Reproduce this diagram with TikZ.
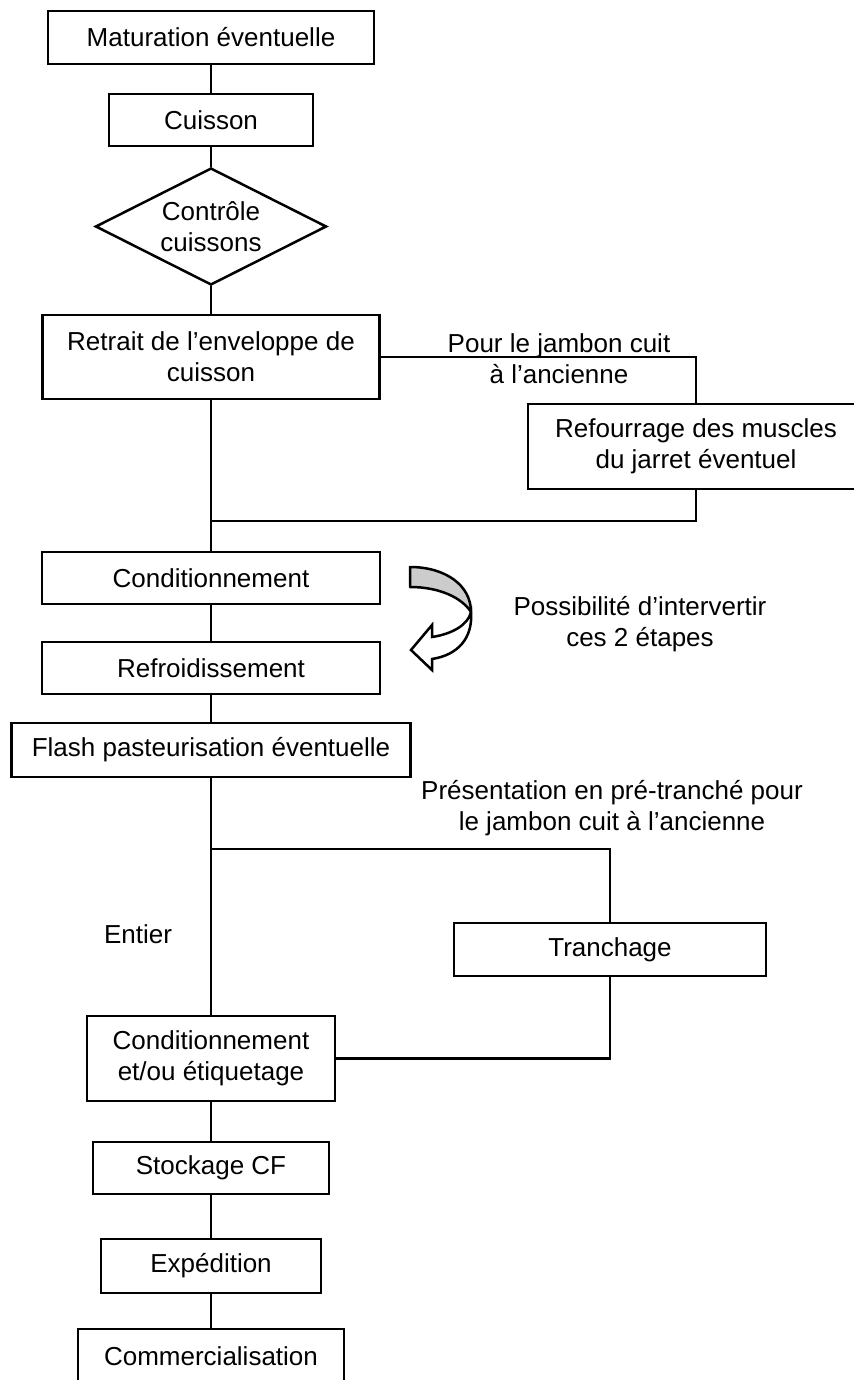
\documentclass[tikz,border=0pt]{standalone}
\usepackage{fontspec}
\setmainfont{Liberation Sans}
\usetikzlibrary{shapes.geometric}
\definecolor{arrowgray}{RGB}{204,204,204}
\tikzset{
  every node/.style={font=\fontsize{13}{15.5}\selectfont},
  stepbox/.style={draw, line width=1.25pt, rectangle, inner sep=0pt, align=center},
  decision/.style={draw, line width=1.25pt, diamond, inner sep=0pt, aspect=2, align=center},
  conn/.style={line width=1.25pt},
  lbl/.style={align=center, inner sep=0pt}
}
\begin{document}
\begin{tikzpicture}[x=0.5pt, y=-0.5pt]
\path[use as bounding box] (0,0) rectangle (854,1380);
\clip (0,0) rectangle (854,1380);
\fill[white] (0,0) rectangle (854,1380);

% main column
\node[stepbox, minimum width=163pt, minimum height=26.5pt] (mat) at (211,37.5) {Maturation éventuelle};
\node[stepbox, minimum width=102pt, minimum height=26pt] (cui) at (211,120) {Cuisson};
\node[decision, minimum width=115.5pt, minimum height=58.5pt] (dia) at (211,226.5) {Contrôle\\cuissons};
\node[stepbox, minimum width=168.5pt, minimum height=42pt] (ret) at (211,357) {Retrait de l’enveloppe de\\cuisson};
\node[stepbox, minimum width=168pt, minimum height=42.5pt] (ref) at (696,446.5) {Refourrage des muscles\\du jarret éventuel};
\node[stepbox, minimum width=169pt, minimum height=26pt] (cond) at (211,578) {Conditionnement};
\node[stepbox, minimum width=169pt, minimum height=26pt] (refr) at (211,668) {Refroidissement};
\node[stepbox, minimum width=199.5pt, minimum height=27pt] (flash) at (211,750) {Flash pasteurisation éventuelle};
\node[stepbox, minimum width=156pt, minimum height=26.5pt] (tran) at (610,949.5) {Tranchage};
\node[stepbox, minimum width=124pt, minimum height=42.5pt] (condet) at (211,1058.5) {Conditionnement\\et/ou étiquetage};
\node[stepbox, minimum width=118pt, minimum height=26pt] (stock) at (211,1168) {Stockage CF};
\node[stepbox, minimum width=110pt, minimum height=27pt] (exp) at (211,1266) {Expédition};
\node[stepbox, minimum width=133pt, minimum height=27pt] (com) at (211,1356) {Commercialisation};

% junctions
\coordinate (j1) at (211,521);
\coordinate (j2) at (211,849);

% connectors
\draw[conn] (mat.south) -- (cui.north);
\draw[conn] (cui.south) -- (dia.north);
\draw[conn] (dia.south) -- (ret.north);
\draw[conn] (ret.east) -| (ref.north);
\draw[conn] (ret.south) -- (cond.north);
\draw[conn] (ref.south) |- (j1);
\draw[conn] (cond.south) -- (refr.north);
\draw[conn] (refr.south) -- (flash.north);
\draw[conn] (flash.south) -- (condet.north);
\draw[conn] (j2) -| (tran.north);
\draw[conn] (tran.south) |- (condet.east);
\draw[conn] (condet.south) -- (stock.north);
\draw[conn] (stock.south) -- (exp.north);
\draw[conn] (exp.south) -- (com.north);

% labels
\node[lbl] (l1) at (559,358.5) {Pour le jambon cuit\\à l’ancienne};
\node[lbl] (l2) at (612,808) {Présentation en pré-tranché pour\\le jambon cuit à l’ancienne};
\node[lbl] (l3) at (138,934) {Entier};
\node[lbl] (l4) at (640,624.5) {Possibilité d’intervertir\\ces 2 étapes};

% curved swap arrow
\draw[line width=1.25pt, fill=arrowgray, line join=round]
  (410,567) .. controls (445,567) and (471,585) .. (471,612)
  .. controls (462,598) and (440,587) .. (410,587) -- cycle;
\draw[line width=1.25pt, fill=white, line join=miter]
  (471,612) .. controls (468,625) and (452,634) .. (432,637)
  -- (432,625) -- (411,650) -- (432,670) -- (432,659)
  .. controls (458,655) and (473,638) .. (471,612) -- cycle;
\end{tikzpicture}
\end{document}
